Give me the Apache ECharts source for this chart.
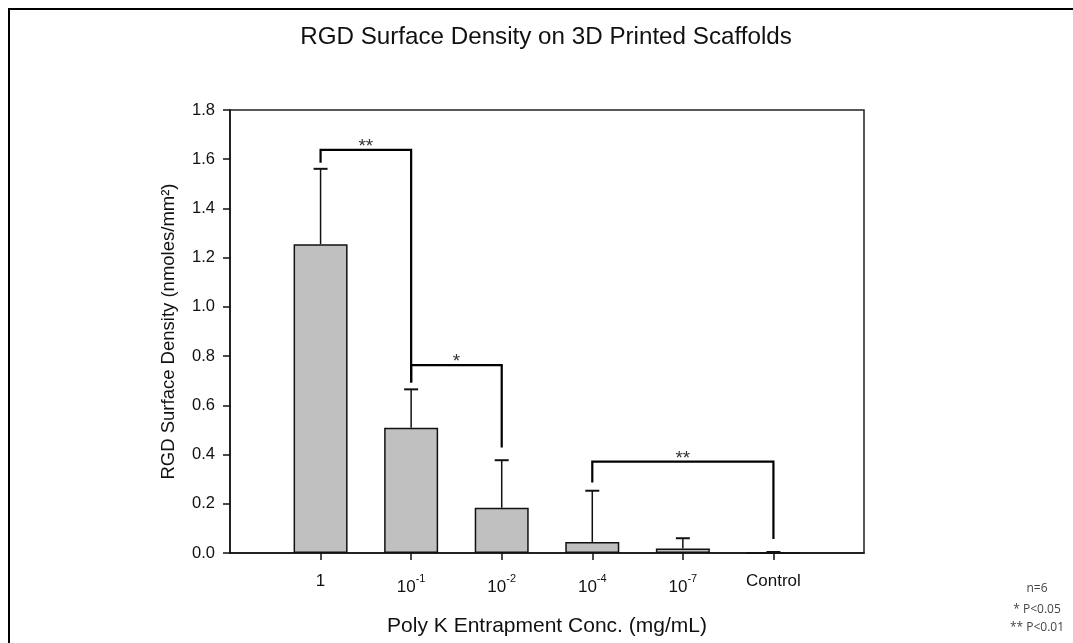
<!DOCTYPE html>
<html>
<head>
<meta charset="utf-8">
<script src="https://cdn.jsdelivr.net/npm/echarts@6/dist/echarts.min.js"></script>
<style>
html,body{margin:0;padding:0;background:#fff;}
#chart{width:1073px;height:643px;}
</style>
</head>
<body>
<div id="chart"></div>
<script>
// ---- data ----
var categories = ['1', '10^-1', '10^-2', '10^-4', '10^-7', 'Control'];
var means = [1.255, 0.509, 0.184, 0.045, 0.018, 0.0];
var errUpper = [0.306, 0.156, 0.193, 0.208, 0.042, 0.004];
var yTicks = [0, 0.2, 0.4, 0.6, 0.8, 1.0, 1.2, 1.4, 1.6, 1.8];
// significance brackets (category index from/to, heights)
var bracketFrom = [0, 1, 3];
var bracketTo = [1, 2, 5];
var bracketLeftY = [1.586, 0.693, 0.286];
var bracketRightY = [0.693, 0.429, 0.057];
var bracketTopY = [1.638, 0.763, 0.371];
var bracketLabels = ['**', '*', '**'];
var notes = ['n=6', '* P<0.05', '** P<0.01'];

var FONT = '"Liberation Sans", Arial, sans-serif';
var chart = echarts.init(document.getElementById('chart'));

var catPos = categories.map(function (c, i) { return i + 1; });
var barData = means.map(function (m, i) { return [catPos[i], m]; });
var errData = means.map(function (m, i) { return [catPos[i], m, errUpper[i]]; });
var brData = bracketFrom.map(function (f, i) {
  return [catPos[f], catPos[bracketTo[i]], bracketLeftY[i], bracketRightY[i], bracketTopY[i]];
});

function fmtCat(v) {
  var c = categories[Math.round(v) - 1];
  if (c === undefined) return '';
  if (c.indexOf('^') >= 0) {
    var p = c.split('^');
    return '{b|' + p[0] + '}{s|' + p[1] + '}';
  }
  return '{p|' + c + '}';
}

var option = {
  animation: false,
  backgroundColor: '#fff',
  title: {
    text: 'RGD Surface Density on 3D Printed Scaffolds',
    left: 541, top: 20, textAlign: 'center',
    textStyle: { fontFamily: FONT, fontSize: 24.2, fontWeight: 'normal', color: '#111' }
  },
  grid: { left: 230, top: 110, right: 209, bottom: 90, show: true, borderColor: '#222', borderWidth: 1.5, backgroundColor: 'transparent' },
  xAxis: {
    type: 'value', min: 0, max: 7, interval: 1,
    name: 'Poly K Entrapment Conc. (mg/mL)', nameLocation: 'middle', nameGap: 63,
    nameTextStyle: { fontFamily: FONT, fontSize: 21, color: '#111' },
    axisLine: { show: true, lineStyle: { color: '#111', width: 1.5 } },
    axisTick: { show: true, length: 7, inside: false, customValues: catPos, lineStyle: { color: '#111', width: 1.5 } },
    splitLine: { show: false },
    axisLabel: {
      customValues: catPos, margin: 13, color: '#111',
      formatter: fmtCat,
      rich: {
        p: { fontFamily: FONT, fontSize: 17, color: '#111', lineHeight: 30 },
        b: { fontFamily: FONT, fontSize: 17, color: '#111', lineHeight: 30, verticalAlign: 'bottom' },
        s: { fontFamily: FONT, fontSize: 11, color: '#111', lineHeight: 30, verticalAlign: 'top', padding: [7, 0, 0, 0] }
      }
    }
  },
  yAxis: {
    type: 'value', min: 0, max: 1.8, interval: 0.2,
    name: 'RGD Surface Density (nmoles/mm\u00b2)', nameLocation: 'middle', nameGap: 52,
    nameTextStyle: { fontFamily: FONT, fontSize: 18.5, color: '#111' },
    axisLine: { show: true, lineStyle: { color: '#111', width: 1.5 } },
    axisTick: { show: true, length: 7, inside: false, lineStyle: { color: '#111', width: 1.5 } },
    splitLine: { show: false },
    axisLabel: {
      margin: 15, fontFamily: FONT, fontSize: 16.5, color: '#111',
      formatter: function (v) { return v.toFixed(1); }
    }
  },
  graphic: [
    { type: 'rect', shape: { x: 9, y: 9, width: 1200, height: 800 }, style: { fill: 'none', stroke: '#000', lineWidth: 2 }, silent: true }
  ].concat(notes.map(function (t, i) {
    return {
      type: 'text', x: 1037, y: [589, 610, 628][i],
      style: { text: t, fontFamily: '"Open Sans", "Noto Sans", sans-serif', fontSize: 12, fill: '#444', textAlign: 'center', textVerticalAlign: 'middle' }
    };
  })),
  series: [
    {
      type: 'bar', data: barData, barWidth: 54,
      itemStyle: { color: '#c0c0c0', borderColor: '#111', borderWidth: 1.5 },
      z: 2
    },
    {
      type: 'custom', data: errData, z: 3, clip: false,
      renderItem: function (params, api) {
        var x = api.value(0), m = api.value(1), e = api.value(2);
        var p0 = api.coord([x, m]);
        var p1 = api.coord([x, m + e]);
        return {
          type: 'group', children: [
            { type: 'line', shape: { x1: p0[0], y1: p0[1], x2: p1[0], y2: p1[1] }, style: { stroke: '#111', lineWidth: 1.5 } },
            { type: 'line', shape: { x1: p1[0] - 7, y1: p1[1], x2: p1[0] + 7, y2: p1[1] }, style: { stroke: '#111', lineWidth: 2 } }
          ]
        };
      }
    },
    {
      type: 'custom', data: brData, z: 4, clip: false,
      renderItem: function (params, api) {
        var a = api.value(0), b = api.value(1), ly = api.value(2), ry = api.value(3), ty = api.value(4);
        var pA = api.coord([a, ly]), pAt = api.coord([a, ty]), pBt = api.coord([b, ty]), pB = api.coord([b, ry]);
        return {
          type: 'group', children: [
            { type: 'polyline', shape: { points: [pA, pAt, pBt, pB] }, style: { stroke: '#000', lineWidth: 2.2, fill: null, lineJoin: 'miter' } },
            { type: 'text', x: (pAt[0] + pBt[0]) / 2, y: pAt[1] - 3,
              style: { text: bracketLabels[params.dataIndex], fontFamily: FONT, fontSize: 19, fill: '#333', textAlign: 'center', textVerticalAlign: 'middle' } }
          ]
        };
      }
    }
  ]
};
chart.setOption(option);
</script>
</body>
</html>
